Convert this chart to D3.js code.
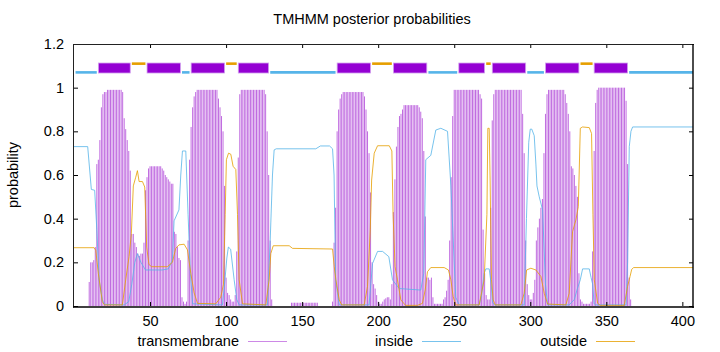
<!DOCTYPE html>
<html>
<head>
<meta charset="utf-8">
<script src="https://d3js.org/d3.v7.min.js"></script>
<style>
    body { margin: 0; background: #fff; }
    svg text { font-family: "Liberation Sans", Arial, sans-serif; font-size: 14.5px; fill: #000; }
</style>
</head>
<body>
<div id="chart"></div>
<script>
var xScale, yScale;
var seqLength = 407;
var chartTitle = "TMHMM posterior probabilities";
var yLabel = "probability";
var xTicks = [50, 100, 150, 200, 250, 300, 350, 400];
var yTicks = [0, 0.2, 0.4, 0.6, 0.8, 1, 1.2];
var yTickLabels = ["0", "0.2", "0.4", "0.6", "0.8", "1", "1.2"];
var seriesNames = ["transmembrane", "inside", "outside"];

// posterior probability of transmembrane, one value per residue (1..407)
var tmProb = [
    0, 0, 0, 0, 0, 0, 0, 0, 0, .11,                              // 1-10
    .2, .2, .21, .27, .65, .67, .76, .91, .97, .98,              // 11-20
    .98, .99, .99, .99, .99, .99, .99, .99, .99, .99,            // 21-30
    .99, .98, .86, .81, .76, .71, .62, .33, .33, .29,            // 31-40
    .27, .24, .23, .24, .24, .29, .53, .59, .63, .64,            // 41-50
    .64, .64, .64, .64, .64, .64, .64, .63, .62, .6,             // 51-60
    .59, .58, .57, .56, .56, .34, .33, .27, .22, .21,            // 61-70
    .04, .02, .01, .02, .3, .67, .82, .91, .96, .98,             // 71-80
    .99, .99, .99, .99, .99, .99, .99, .99, .99, .99,            // 81-90
    .99, .99, .99, .99, .95, .91, .87, .8, .55, .13,             // 91-100
    .06, .05, .03, .02, .02, .05, .25, .68, .97, .99,            // 101-110
    .99, .99, .99, .99, .99, .99, .99, .99, .99, .99,            // 111-120
    .99, .99, .99, .99, .99, .97, .8, .6, .3, .03,               // 121-130
    0, 0, 0, 0, 0, 0, 0, 0, 0, 0,                                // 131-140
    0, 0, .015, .015, .015, .015, .015, .015, .015, .015,        // 141-150
    .015, .015, .015, .015, .015, .015, .015, .015, .015, .015,  // 151-160
    0, 0, 0, 0, 0, 0, 0, 0, 0, .02,                              // 161-170
    .29, .45, .8, .9, .95, .97, .98, .98, .98, .98,              // 171-180
    .98, .98, .98, .98, .98, .98, .98, .98, .98, .98,            // 181-190
    .96, .9, .8, .7, .52, .2, .1, .08, .05, .02,                 // 191-200
    .01, .01, .02, .03, .035, .04, .04, .03, .1, .43,            // 201-210
    .58, .73, .82, .87, .88, .9, .92, .92, .92, .92,             // 211-220
    .92, .92, .92, .92, .92, .92, .91, .89, .86, .71,            // 221-230
    .41, .13, .13, .12, .13, .04, .01, .01, .01, .01,            // 231-240
    .01, .01, .03, .04, .07, .12, .3, .59, .87, .99,             // 241-250
    .99, .99, .99, .99, .99, .99, .99, .99, .99, .99,            // 251-260
    .99, .99, .99, .99, .99, .99, .97, .95, .35, .15,            // 261-270
    .05, .03, .03, .45, .85, .97, .99, .99, .99, .99,            // 271-280
    .99, .99, .99, .99, .99, .99, .99, .99, .99, .99,            // 281-290
    .99, .99, .99, .99, .88, .7, .3, .1, .05, .03,               // 291-300
    .03, .06, .12, .3, .36, .4, .45, .49, .7, .88,               // 301-310
    .97, .99, .99, .99, .99, .99, .99, .99, .99, .99,            // 311-320
    .99, .99, .97, .93, .88, .8, .64, .63, .6, .55,              // 321-330
    .5, .15, .03, .02, .01, .01, .01, .01, .01, .02,             // 331-340
    .25, .71, .93, .99, 1, 1, 1, 1, 1, 1,                        // 341-350
    1, 1, 1, 1, 1, 1, 1, 1, 1, 1,                                // 351-360
    1, 1, .94, .65, .13, .03, 0, 0, 0, 0,                        // 361-370
    0, 0, 0, 0, 0, 0, 0, 0, 0, 0,                                // 371-380
    0, 0, 0, 0, 0, 0, 0, 0, 0, 0,                                // 381-390
    0, 0, 0, 0, 0, 0, 0, 0, 0, 0,                                // 391-400
    0, 0, 0, 0, 0, 0, 0                                          // 401-407
];

// inside / outside curves, [residue, probability]
var insideProb = [
    [0, .73], [9, .73], [11.4, .534], [13.6, .53], [15, .35], [16.5, .12], [18.6, .03], [20, .008],
    [33, .005], [36, .02], [38, .1], [40, .2], [41.7, .24], [44, .2], [47, .165], [58, .165],
    [62, .17], [64.7, .21], [65.8, .39], [69, .44], [70.2, .6], [71.3, .71], [73.5, .71], [75, .42],
    [76.5, .15], [78, .01], [97.6, .005], [99, .1], [100.5, .22], [101.5, .27], [103, .26], [105.3, .12],
    [107, .03], [108.6, .005], [127.2, .005], [129, .3], [130.5, .6], [131.6, .715], [133, .72], [159, .72],
    [162, .733], [168, .733], [170, .72], [171, .6], [172, .12], [174.4, .005], [194, .005], [196.3, .195],
    [199.6, .25], [202.9, .25], [207, .226], [209.4, .12], [213.8, .08], [228, .073], [230, .15], [231.3, .67],
    [234.6, .69], [237.9, .806], [241.2, .814], [245.6, .8], [247.8, .55], [251, .04], [253.3, .005], [266.4, .005],
    [268, .05], [269.7, .15], [270.8, .17], [273, .17], [274.3, .1], [275.2, .015], [276.5, .005], [296, .005],
    [297.5, .4], [299, .75], [300, .81], [301, .81], [302.6, .78], [303.7, .65], [304.4, .55], [305.9, .5],
    [308.1, .44], [310, .1], [311.4, .005], [325.6, .005], [329, .03], [331, .08], [332.9, .12], [334.4, .17],
    [338.8, .17], [340, .13], [341, .1], [342, .01], [343, .005], [363, .005], [364, .2], [365.1, .73],
    [366.2, .8], [367.3, .82], [407, .82]
];

var outsideProb = [
    [0, .267], [13.2, .267], [14.3, .255], [16, .15], [18.6, .02], [20, .005], [31.8, .005], [34, .12],
    [36.2, .226], [37.7, .33], [39, .55], [40.6, .59], [41.7, .62], [42.8, .57], [45, .57], [46.5, .545],
    [47.8, .27], [49.3, .19], [51, .18], [61.4, .18], [64.7, .2], [66.9, .264], [69, .28], [72.4, .283],
    [74.6, .257], [76.8, .15], [79, .06], [81.2, .012], [93.2, .01], [96.5, .04], [98.3, .1], [99.4, .42],
    [100.2, .67], [101.6, .7], [103.1, .695], [104.6, .64], [106.4, .625], [107.5, .42], [108.6, .12], [110.8, .01],
    [126.1, .005], [128.3, .12], [129.4, .24], [131, .276], [141.5, .276], [143.7, .264], [170, .261], [171.1, .18],
    [172.2, .12], [174.4, .028], [176, .005], [190.8, .005], [193, .09], [194.8, .35], [195.7, .577], [197.4, .7],
    [199.6, .734], [207.3, .734], [209, .71], [209.8, .42], [211.1, .18], [212.7, .12], [214.9, .028], [218, .003],
    [225.8, .003], [229.1, .012], [230.9, .073], [232.4, .157], [234.6, .176], [243.4, .176], [246.2, .165], [247.8, .12],
    [249.3, .043], [251, .005], [266.4, .005], [269.7, .12], [271.5, .42], [272.1, .814], [273, .814], [273.6, .577],
    [274.5, .12], [275.6, .028], [277, .005], [293.8, .005], [296, .058], [297.6, .165], [300.4, .173], [303.7, .165],
    [307, .135], [309.2, .058], [311.4, .009], [323.4, .005], [325.6, .058], [327.8, .34], [330, .394], [331.6, .455],
    [332.9, .814], [334.4, .82], [338.8, .817], [340.3, .79], [341.2, .42], [342.1, .12], [344.3, .012], [346, .003],
    [361.8, .003], [364, .09], [365.6, .135], [366.7, .168], [368, .176], [407, .176]
];

// predicted topology: [kind, first residue, last residue]
var topology = [
    ["inside", 1, 15], ["TMhelix", 16, 37], ["outside", 38, 47], ["TMhelix", 48, 70],
    ["inside", 71, 76], ["TMhelix", 77, 99], ["outside", 100, 107], ["TMhelix", 108, 128],
    ["inside", 129, 172], ["TMhelix", 173, 195], ["outside", 196, 209], ["TMhelix", 210, 232],
    ["inside", 233, 252], ["TMhelix", 253, 270], ["outside", 271, 274], ["TMhelix", 275, 297],
    ["inside", 298, 309], ["TMhelix", 310, 332], ["outside", 333, 341], ["TMhelix", 342, 364],
    ["inside", 365, 407]
];
var topologyLevel = {TMhelix: 1.09, inside: 1.07, outside: 1.11};

var colors = {transmembrane: "#c06ce0", inside: "#56b4e9", outside: "#e69f00", box: "#9400d3"};

function TMChart() {
    var self = this;
    self.init();
};

TMChart.prototype.init = function () {
    var self = this;
    self.left = 74;
    self.right = 693;
    self.top = 44;
    self.bottom = 306;

    self.svg = d3.select("#chart").append("svg")
        .attr("width", 720)
        .attr("height", 352);

    xScale = d3.scaleLinear()
        .domain([0, seqLength])
        .range([self.left, self.right]);

    yScale = d3.scaleLinear()
        .domain([0, 1.2])
        .range([self.bottom, self.top]);

    //transmembrane impulses
    self.svg.append("g")
        .selectAll("line")
        .data(tmProb)
        .enter().append("line")
        .attr("x1", function (d, i) { return xScale(i + 1); })
        .attr("x2", function (d, i) { return xScale(i + 1); })
        .attr("y1", yScale(0))
        .attr("y2", function (d) { return yScale(d); })
        .attr("stroke", colors.transmembrane)
        .attr("stroke-width", 1);

    var line = d3.line()
        .x(function (d) { return xScale(d[0]); })
        .y(function (d) { return yScale(d[1]); });

    self.svg.append("path")
        .datum(insideProb)
        .attr("d", line)
        .attr("fill", "none")
        .attr("stroke", colors.inside)
        .attr("stroke-opacity", 0.8)
        .attr("stroke-width", 1);

    self.svg.append("path")
        .datum(outsideProb)
        .attr("d", line)
        .attr("fill", "none")
        .attr("stroke", colors.outside)
        .attr("stroke-opacity", 0.8)
        .attr("stroke-width", 1);

    //topology bars above the curves
    var seg = self.svg.append("g").selectAll("g")
        .data(topology)
        .enter().append("g");

    seg.filter(function (d) { return d[0] === "TMhelix"; })
        .append("rect")
        .attr("x", function (d) { return xScale(d[1] - 0.5) + 0.8; })
        .attr("y", function (d) { return yScale(topologyLevel[d[0]]) - 5; })
        .attr("width", function (d) { return xScale(d[2] + 0.5) - xScale(d[1] - 0.5) - 1.6; })
        .attr("height", 10)
        .attr("fill", colors.box)
        .attr("stroke", "#d2a0ee")
        .attr("stroke-width", 0.8);

    seg.filter(function (d) { return d[0] !== "TMhelix"; })
        .append("line")
        .attr("x1", function (d) { return Math.max(self.left, xScale(d[1] - 0.5) + 0.8); })
        .attr("x2", function (d) { return Math.min(self.right, xScale(d[2] + 0.5) - 0.8); })
        .attr("y1", function (d) { return yScale(topologyLevel[d[0]]); })
        .attr("y2", function (d) { return yScale(topologyLevel[d[0]]); })
        .attr("stroke", function (d) { return colors[d[0]]; })
        .attr("stroke-width", 2.6);

    //axes, ticks point inwards and are mirrored
    self.svg.append("g")
        .attr("transform", "translate(0," + self.bottom + ")")
        .call(d3.axisBottom(xScale).tickValues(xTicks).tickSize(-4).tickPadding(10));
    self.svg.append("g")
        .attr("transform", "translate(0," + self.top + ")")
        .call(d3.axisTop(xScale).tickValues(xTicks).tickSize(-4).tickFormat(""));
    self.svg.append("g")
        .attr("transform", "translate(" + self.left + ",0)")
        .call(d3.axisLeft(yScale).tickValues(yTicks).tickSize(-4).tickPadding(10)
            .tickFormat(function (d, i) { return yTickLabels[i]; }));
    self.svg.append("g")
        .attr("transform", "translate(" + self.right + ",0)")
        .call(d3.axisRight(yScale).tickValues(yTicks).tickSize(-4).tickFormat(""));

    self.svg.selectAll(".domain").remove();
    self.svg.selectAll("g").attr("font-family", null).attr("font-size", null);

    //plot border
    self.svg.append("line").attr("x1", 73.5).attr("x2", 73.5).attr("y1", 44).attr("y2", 307.5)
        .attr("stroke", "#222").attr("stroke-width", 1);
    self.svg.append("line").attr("x1", 73).attr("x2", 694).attr("y1", 44.5).attr("y2", 44.5)
        .attr("stroke", "#222").attr("stroke-width", 1);
    self.svg.append("line").attr("x1", 693).attr("x2", 693).attr("y1", 44).attr("y2", 308)
        .attr("stroke", "#000").attr("stroke-width", 1.4);
    self.svg.append("line").attr("x1", 73).attr("x2", 694).attr("y1", 307).attr("y2", 307)
        .attr("stroke", "#000").attr("stroke-width", 1.4);

    self.svg.append("text")
        .attr("x", 372)
        .attr("y", 24)
        .attr("text-anchor", "middle")
        .text(chartTitle);

    self.svg.append("text")
        .attr("transform", "translate(18,175) rotate(-90)")
        .attr("text-anchor", "middle")
        .text(yLabel);

    //key along the bottom
    var keyTextEnd = [239, 413, 587];
    var key = self.svg.append("g").selectAll("g")
        .data(seriesNames)
        .enter().append("g");
    key.append("text")
        .attr("x", function (d, i) { return keyTextEnd[i]; })
        .attr("y", 346)
        .attr("text-anchor", "end")
        .text(function (d) { return d; });
    key.append("line")
        .attr("x1", function (d, i) { return keyTextEnd[i] + 9; })
        .attr("x2", function (d, i) { return keyTextEnd[i] + 48; })
        .attr("y1", 341.5)
        .attr("y2", 341.5)
        .attr("stroke", function (d) { return colors[d]; })
        .attr("stroke-opacity", 0.8)
        .attr("stroke-width", 1);
};

new TMChart();
</script>
</body>
</html>
